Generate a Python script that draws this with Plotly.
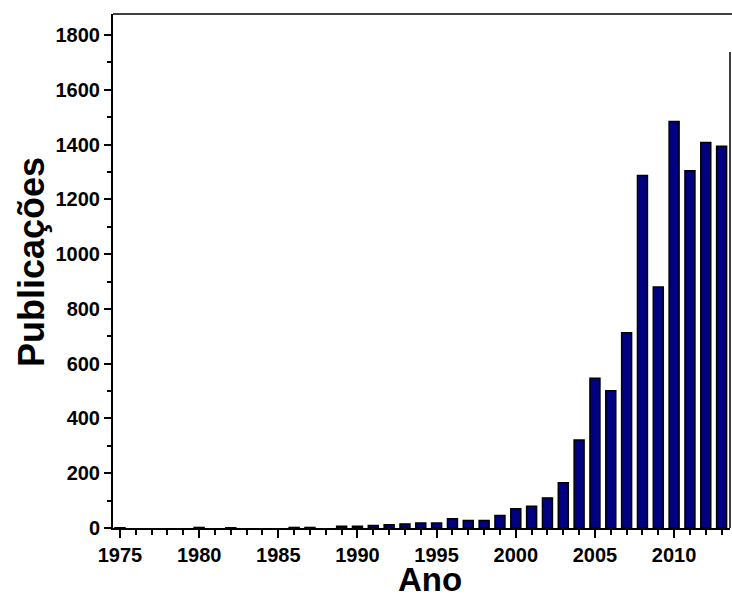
import plotly.graph_objects as go

years = list(range(1975, 2014))
publicacoes = [1, 0, 0, 0, 0, 2, 0, 1, 0, 0, 0, 2, 2, 0, 6,
               6, 9, 12, 15, 18, 18, 34, 27, 27, 46,
               70, 79, 110, 165, 321, 547, 501, 713, 1287, 880,
               1484, 1305, 1408, 1394]

x_tick_vals = [1975, 1980, 1985, 1990, 1995, 2000, 2005, 2010]
y_tick_vals = [0, 200, 400, 600, 800, 1000, 1200, 1400, 1600, 1800]

outline_widths = [1.5 if v > 0 else 0 for v in publicacoes]

fig = go.Figure()
fig.add_trace(go.Bar(
    x=years, y=publicacoes, width=0.63,
    marker=dict(color="#000080", line=dict(color="black", width=outline_widths)),
))

font_family = "Liberation Sans, Arial, sans-serif"
fig.update_layout(
    width=732, height=597,
    margin=dict(l=113, r=2, t=14, b=69),
    plot_bgcolor="white", paper_bgcolor="white",
    showlegend=False,
    font=dict(family=font_family, color="black"),
    xaxis=dict(
        range=[1974.56, 2013.53], tickvals=x_tick_vals,
        ticks="outside", ticklen=8, tickwidth=2, tickcolor="black",
        showline=True, linewidth=2, linecolor="black", showgrid=False, zeroline=False,
        tickfont=dict(size=20, family=font_family, weight="bold"),
        minor=dict(dtick=1, ticks="outside", ticklen=5, tickwidth=1.5, tickcolor="black", showgrid=False),
    ),
    yaxis=dict(
        range=[0, 1877], tickvals=y_tick_vals,
        ticks="outside", ticklen=7, tickwidth=2, tickcolor="black",
        showline=True, linewidth=2, linecolor="black", showgrid=False, zeroline=False,
        tickfont=dict(size=20, family=font_family, weight="bold"),
        minor=dict(dtick=100, ticks="outside", ticklen=4, tickwidth=1.5, tickcolor="black", showgrid=False),
    ),
    annotations=[
        dict(text="<b>Ano</b>", xref="paper", yref="paper", x=0.514, y=-0.1,
             xanchor="center", yanchor="middle", showarrow=False, font=dict(size=33),
             height=28, valign="middle", borderpad=0),
        dict(text="<b>Publicações</b>", xref="paper", yref="paper", x=(31 - 113) / 617, y=0.5175,
             xanchor="center", yanchor="middle", showarrow=False, textangle=-90, font=dict(size=36)),
    ],
    shapes=[
        dict(type="line", xref="paper", yref="paper", x0=0, x1=1.01, y0=1, y1=1,
             line=dict(color="black", width=1.5)),
        dict(type="line", xref="paper", yref="paper", x0=1, x1=1, y0=0, y1=0.926,
             line=dict(color="black", width=1.5)),
    ],
)

fig.write_html("out.html")
